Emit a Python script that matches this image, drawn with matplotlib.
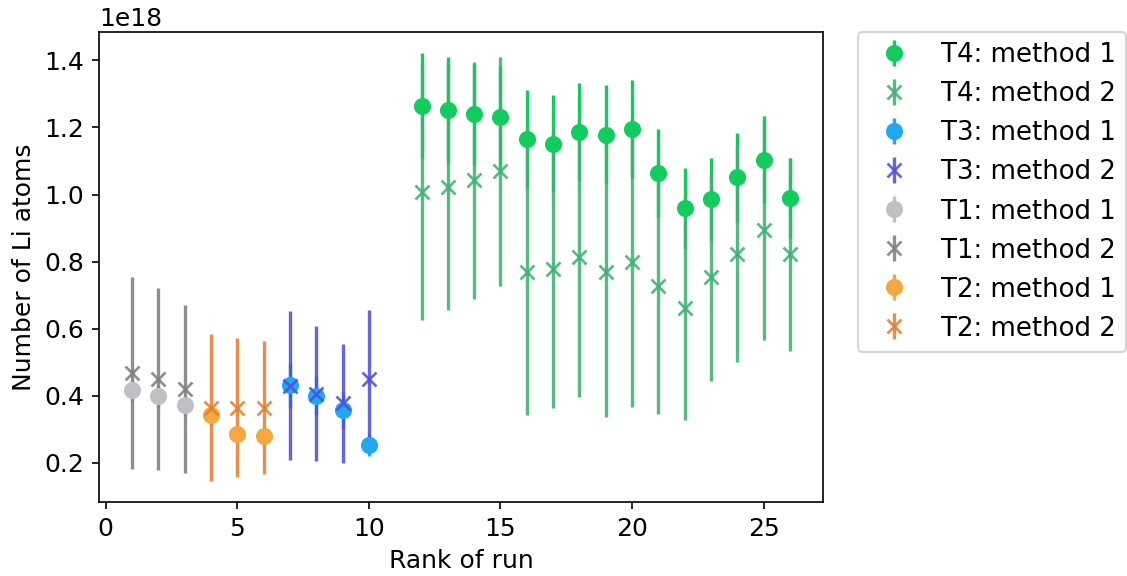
import matplotlib
matplotlib.use("Agg")
import matplotlib.pyplot as plt
import numpy as np

plt.rcParams['font.size'] = 12

scale = 1e18

# T4 (runs 12-26)
t4_runs = [12, 13, 14, 15, 16, 17, 18, 19, 20, 21, 22, 23, 24, 25, 26]
t4_m1 = [1.265, 1.252, 1.239, 1.232, 1.166, 1.152, 1.186, 1.179, 1.196, 1.065, 0.959, 0.986, 1.051, 1.104, 0.990]
t4_m1_err = [0.156, 0.157, 0.150, 0.150, 0.145, 0.144, 0.147, 0.147, 0.147, 0.131, 0.120, 0.123, 0.132, 0.130, 0.120]
t4_m2 = [1.007, 1.024, 1.042, 1.069, 0.769, 0.777, 0.813, 0.769, 0.798, 0.726, 0.662, 0.754, 0.823, 0.894, 0.822]
t4_m2_err = [0.382, 0.368, 0.354, 0.342, 0.425, 0.413, 0.416, 0.433, 0.432, 0.379, 0.333, 0.311, 0.323, 0.329, 0.287]

# T3 (runs 7-10)
t3_runs = [7, 8, 9, 10]
t3_m1 = [0.432, 0.400, 0.357, 0.254]
t3_m1_err = [0.067, 0.058, 0.055, 0.033]
t3_m2 = [0.430, 0.406, 0.377, 0.451]
t3_m2_err = [0.222, 0.201, 0.176, 0.204]

# T1 (runs 1-3)
t1_runs = [1, 2, 3]
t1_m1 = [0.416, 0.398, 0.373]
t1_m1_err = [0.035, 0.033, 0.030]
t1_m2 = [0.468, 0.451, 0.421]
t1_m2_err = [0.287, 0.271, 0.251]

# T2 (runs 4-6)
t2_runs = [4, 5, 6]
t2_m1 = [0.344, 0.285, 0.281]
t2_m1_err = [0.030, 0.025, 0.025]
t2_m2 = [0.365, 0.365, 0.365]
t2_m2_err = [0.218, 0.208, 0.199]

groups = [
    ("T4", t4_runs, t4_m1, t4_m1_err, t4_m2, t4_m2_err, "#12cc5e", "#3cb371"),
    ("T3", t3_runs, t3_m1, t3_m1_err, t3_m2, t3_m2_err, "#1fa8f0", "#5050dc"),
    ("T1", t1_runs, t1_m1, t1_m1_err, t1_m2, t1_m2_err, "#c0c0c4", "#808080"),
    ("T2", t2_runs, t2_m1, t2_m1_err, t2_m2, t2_m2_err, "#f5a840", "#e67e30"),
]

fig = plt.figure(figsize=(1127 / 150, 576 / 150), dpi=150)
ax = fig.add_axes([99 / 1127, 1 - 502 / 576, (823 - 99) / 1127, (502 - 32) / 576])

for name, runs, m1, m1e, m2, m2e, c1, c2 in groups:
    ax.errorbar(runs, np.array(m1) * scale, yerr=np.array(m1e) * scale, fmt='o',
                color=c1, ms=7.2, elinewidth=1.6, label=f"{name}: method 1")
    ax.errorbar(runs, np.array(m2) * scale, yerr=np.array(m2e) * scale, fmt='x',
                color=c2, ms=6.5, mew=1.3, elinewidth=1.6, alpha=0.88,
                label=f"{name}: method 2")

ax.set_xlabel("Rank of run")
ax.set_ylabel("Number of Li atoms")
ax.legend(loc='upper left', bbox_to_anchor=(1.048, 1.0), borderaxespad=0,
          fontsize=12.5)

fig.savefig("out.png", dpi=150)
